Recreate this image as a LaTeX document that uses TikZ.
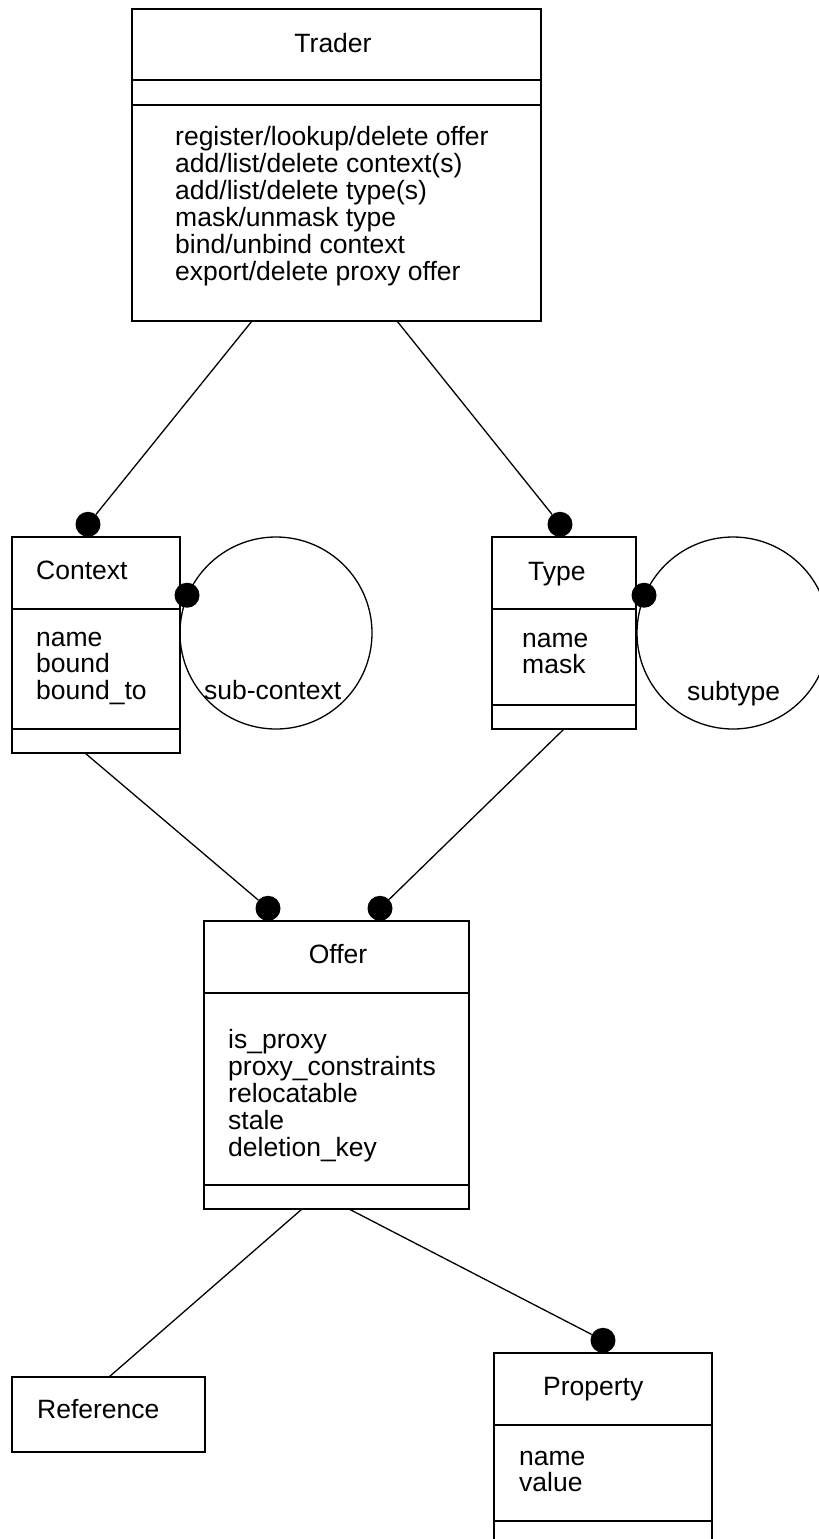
\documentclass[tikz,border=0pt]{standalone}
\usepackage{fontspec}
\setmainfont{Liberation Sans}
\usepackage{tikz}

\begin{document}
\begin{tikzpicture}[
    x=1pt, y=-1pt,
    font=\fontsize{26.5pt}{27pt}\selectfont,
    compart/.style={draw, rectangle, line width=1.6pt, inner sep=0pt, outer sep=0pt, anchor=north west},
    txt/.style={anchor=base west, inner sep=0pt},
    heading/.style={anchor=base, inner sep=0pt},
    endpoint/.style={circle, fill=black, inner sep=0pt, minimum size=25pt},
    selfassoc/.style={draw, circle, line width=1.3pt, inner sep=0pt, minimum size=192pt},
    link/.style={line width=1.3pt},
]
\useasboundingbox (0,0) rectangle (819,1539);

% === TRADER ===
\node[compart, minimum width=409pt, minimum height=71pt] (trader_name) at (132,9) {};
\node[compart, minimum width=409pt, minimum height=25pt] (trader_attr) at (trader_name.south west) {};
\node[compart, minimum width=409pt, minimum height=216pt] (trader_ops) at (trader_attr.south west) {};
\node[heading] (trader_title) at (333,52) {Trader};
\foreach \op [count=\i from 0] in {register/lookup/delete offer, add/list/delete context(s),
        add/list/delete type(s), mask/unmask type, bind/unbind context, export/delete proxy offer}
    \node[txt] (trader_op\i) at (175,145+27*\i) {\op};

% === CONTEXT ===
\node[compart, minimum width=168pt, minimum height=72pt] (ctx_name) at (12,537) {};
\node[compart, minimum width=168pt, minimum height=120pt] (ctx_attr) at (ctx_name.south west) {};
\node[compart, minimum width=168pt, minimum height=24pt] (ctx_ops) at (ctx_attr.south west) {};
\node[txt] (ctx_title) at (36,579) {Context};
\foreach \a [count=\i from 0] in {name, bound, bound\_to}
    \node[txt] (ctx_attr\i) at (36,646+26.5*\i) {\a};
\node[endpoint, anchor=south] (ctx_dot) at ([xshift=76pt]ctx_name.north west) {};

% sub-context
\node[selfassoc] (ctx_loop) at (276,633) {};
\node[endpoint] (ctx_loop_dot) at (ctx_loop.157) {};
\node[txt] (ctx_loop_lbl) at (204,699) {sub-context};

% === TYPE ===
\node[compart, minimum width=144pt, minimum height=72pt] (type_name) at (492,537) {};
\node[compart, minimum width=144pt, minimum height=96pt] (type_attr) at (type_name.south west) {};
\node[compart, minimum width=144pt, minimum height=24pt] (type_ops) at (type_attr.south west) {};
\node[txt] (type_title) at (528,580) {Type};
\foreach \a [count=\i from 0] in {name, mask}
    \node[txt] (type_attr\i) at (522,647+26.5*\i) {\a};
\node[endpoint, anchor=south] (type_dot) at ([xshift=68pt]type_name.north west) {};

% subtype
\node[selfassoc] (type_loop) at (733,633) {};
\node[endpoint] (type_loop_dot) at (type_loop.157) {};
\node[txt] (type_loop_lbl) at (687,700) {subtype};

% === OFFER ===
\node[compart, minimum width=265pt, minimum height=72pt] (offer_name) at (204,921) {};
\node[compart, minimum width=265pt, minimum height=192pt] (offer_attr) at (offer_name.south west) {};
\node[compart, minimum width=265pt, minimum height=24pt] (offer_ops) at (offer_attr.south west) {};
\node[heading] (offer_title) at (338,963) {Offer};
\foreach \a [count=\i from 0] in {is\_proxy, proxy\_constraints, relocatable, stale, deletion\_key}
    \node[txt] (offer_attr\i) at (228,1048+27*\i) {\a};
\node[endpoint, anchor=south] (offer_dot_ctx) at ([xshift=64pt]offer_name.north west) {};
\node[endpoint, anchor=south] (offer_dot_type) at ([xshift=176pt]offer_name.north west) {};

% === REFERENCE ===
\node[compart, minimum width=193pt, minimum height=75pt] (ref_box) at (12,1377) {};
\node[txt] (ref_title) at (37,1418) {Reference};

% === PROPERTY ===
\node[compart, minimum width=218pt, minimum height=72pt] (prop_name) at (494,1353) {};
\node[compart, minimum width=218pt, minimum height=96pt] (prop_attr) at (prop_name.south west) {};
\node[compart, minimum width=218pt, minimum height=24pt] (prop_ops) at (prop_attr.south west) {};
\node[txt] (prop_title) at (543,1395) {Property};
\foreach \a [count=\i from 0] in {name, value}
    \node[txt] (prop_attr\i) at (519,1465+26.5*\i) {\a};
\node[endpoint, anchor=south] (prop_dot) at ([xshift=109pt]prop_name.north west) {};

% Connections
\draw[link] ([xshift=120pt]trader_ops.south west) -- (ctx_dot);
\draw[link] ([xshift=265pt]trader_ops.south west) -- (type_dot);
\draw[link] ([xshift=73pt]ctx_ops.south west) -- (offer_dot_ctx);
\draw[link] ([xshift=72pt]type_ops.south west) -- (offer_dot_type);
\draw[link] ([xshift=98pt]offer_ops.south west) -- ([xshift=97pt]ref_box.north west);
\draw[link] ([xshift=145pt]offer_ops.south west) -- (prop_dot);

\end{tikzpicture}
\end{document}
